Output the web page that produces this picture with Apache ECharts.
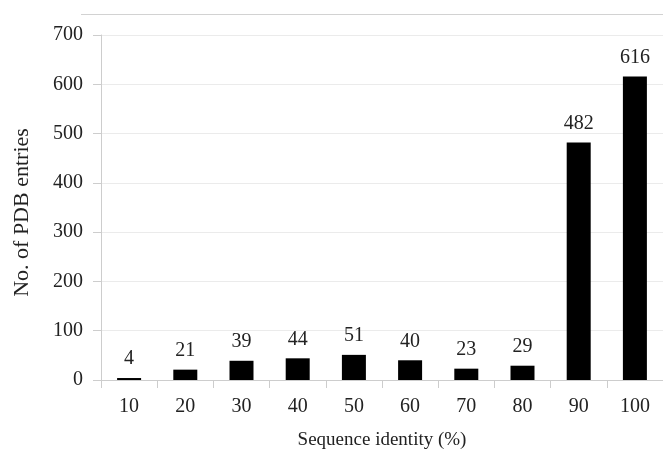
<!DOCTYPE html>
<html><head><meta charset="utf-8">
<script src="https://cdn.jsdelivr.net/npm/echarts@6/dist/echarts.min.js"></script>
<style>html,body{margin:0;padding:0;background:#fff}#c{width:663px;height:455px}</style>
</head><body><div id="c"></div>
<script>
const categories = ['10','20','30','40','50','60','70','80','90','100'];
const entries = [4,21,39,44,51,40,23,29,482,616];
const yTicks = {min:0, max:700, interval:100};
const font = '"Liberation Serif", "Times New Roman", serif';
const chart = echarts.init(document.getElementById('c'));
chart.setOption({
  backgroundColor:'#fff',
  animation:false,
  graphic:[{type:'line', shape:{x1:81,y1:14.5,x2:663,y2:14.5}, style:{stroke:'#d2d2d2', lineWidth:1}}],
  grid:{left:101, right:-1, top:35, bottom:72.5, containLabel:false},
  xAxis:{type:'category', data:categories,
    name:'Sequence identity (%)', nameLocation:'middle', nameGap:51,
    nameTextStyle:{fontFamily:font, fontSize:19, color:'#222'},
    axisLine:{lineStyle:{color:'#cdcdcd'}},
    axisTick:{show:true, length:8, lineStyle:{color:'#cdcdcd'}},
    axisLabel:{fontFamily:font, fontSize:20, color:'#222', margin:17},
    splitLine:{show:false}},
  yAxis:{type:'value', min:yTicks.min, max:yTicks.max, interval:yTicks.interval,
    name:'No. of PDB entries', nameLocation:'middle', nameGap:68, nameRotate:90,
    nameTextStyle:{fontFamily:font, fontSize:22, color:'#222', padding:[0,10,0,0]},
    axisLine:{show:true, lineStyle:{color:'#cdcdcd'}},
    axisTick:{show:true, length:8, lineStyle:{color:'#cdcdcd'}},
    axisLabel:{fontFamily:font, fontSize:20, color:'#222', margin:18},
    splitLine:{show:true, lineStyle:{color:'#ebebeb'}}},
  series:[{type:'bar', data:entries, barWidth:24,
    itemStyle:{color:'#000'},
    label:{show:true, position:'top', distance:9, fontFamily:font, fontSize:20, color:'#222'}}]
});
</script></body></html>
